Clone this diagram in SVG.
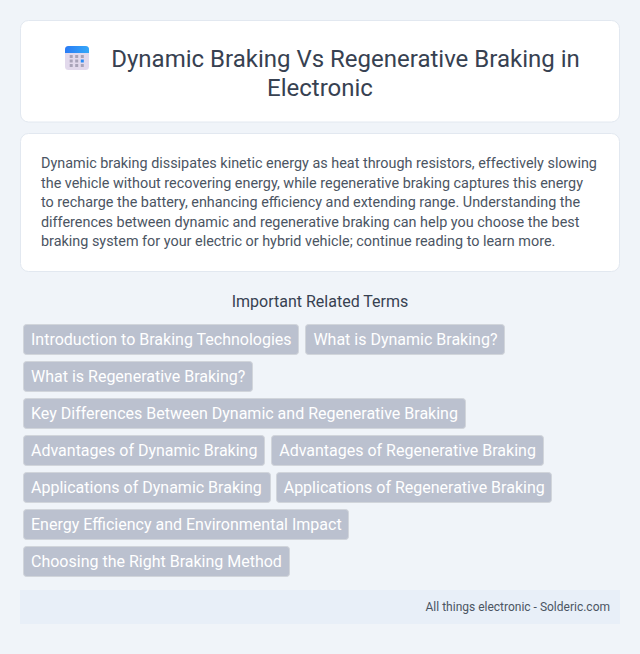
<svg xmlns="http://www.w3.org/2000/svg" width="640" height="654" viewBox="0 0 640 654">
<defs>
<linearGradient id="top" x1="0" y1="0" x2="1" y2="0"><stop offset="0" stop-color="#2a7bf5"/><stop offset="1" stop-color="#35a8f8"/></linearGradient>
</defs>
<style>
text{font-family:Roboto,"Liberation Sans",sans-serif}
.card{fill:#fff;stroke:#e2e8f0;stroke-width:1}
.title{font-size:24px;fill:#374151;text-anchor:middle}
.body{font-size:14.4px;fill:#4b5563}
.head{font-size:16px;fill:#374151;text-anchor:middle}
.tag rect{fill:#bbc1cf;stroke:#d1d5db;stroke-width:1}
.tag text{font-size:16px;fill:#fff}
.dot{fill:#a9a3b8}
</style>
<rect width="640" height="654" fill="#f0f4f9"/>
<g id="title-card">
<rect class="card" x="20.500" y="20.500" width="599" height="101.500" rx="8"/>
<g id="icon">
<rect x="65" y="46" width="24" height="24" rx="3.500" fill="#e2d9ec"/>
<path d="M65 53V49.500A3.500 3.500 0 0 1 68.500 46H85.500A3.500 3.500 0 0 1 89 49.500V53Z" fill="url(#top)"/>
<rect class="dot" x="69.700" y="55" width="3" height="3"/><rect class="dot" x="75.200" y="55" width="3" height="3"/><rect class="dot" x="80.800" y="55" width="3" height="3"/>
<rect class="dot" x="69.700" y="59.500" width="3" height="3"/><rect class="dot" x="75.200" y="59.500" width="3" height="3"/><rect x="80.800" y="59.500" width="3" height="3" fill="#2a8cf5"/>
<rect class="dot" x="69.700" y="64" width="3" height="3"/><rect class="dot" x="75.200" y="64" width="3" height="3"/><rect class="dot" x="80.800" y="64" width="3" height="3"/>
</g>
<text class="title" x="345.500" y="67">Dynamic Braking Vs Regenerative Braking in</text>
<text class="title" x="320" y="96">Electronic</text>
</g>
<g id="summary-card">
<rect class="card" x="20.500" y="133.500" width="599" height="138" rx="8"/>
<text class="body" x="41" y="168">Dynamic braking dissipates kinetic energy as heat through resistors, effectively slowing</text>
<text class="body" x="41" y="188">the vehicle without recovering energy, while regenerative braking captures this energy</text>
<text class="body" x="41" y="207">to recharge the battery, enhancing efficiency and extending range. Understanding the</text>
<text class="body" x="41" y="227">differences between dynamic and regenerative braking can help you choose the best</text>
<text class="body" x="41" y="246">braking system for your electric or hybrid vehicle; continue reading to learn more.</text>
</g>
<text class="head" x="320" y="307">Important Related Terms</text>
<g id="term-1" class="tag"><rect x="23.500" y="324.500" width="275" height="30" rx="3"/><text x="31" y="345">Introduction to Braking Technologies</text></g>
<g id="term-2" class="tag"><rect x="305.500" y="324.500" width="199" height="30" rx="3"/><text x="313.400" y="345">What is Dynamic Braking?</text></g>
<g id="term-3" class="tag"><rect x="23.500" y="361.500" width="229" height="30" rx="3"/><text x="31" y="382">What is Regenerative Braking?</text></g>
<g id="term-4" class="tag"><rect x="23.500" y="398.500" width="442" height="30" rx="3"/><text x="31" y="419">Key Differences Between Dynamic and Regenerative Braking</text></g>
<g id="term-5" class="tag"><rect x="23.500" y="435.500" width="241" height="30" rx="3"/><text x="31" y="456">Advantages of Dynamic Braking</text></g>
<g id="term-6" class="tag"><rect x="271.500" y="435.500" width="272" height="30" rx="3"/><text x="279.200" y="456">Advantages of Regenerative Braking</text></g>
<g id="term-7" class="tag"><rect x="23.500" y="472.500" width="247" height="30" rx="3"/><text x="31" y="493">Applications of Dynamic Braking</text></g>
<g id="term-8" class="tag"><rect x="276.500" y="472.500" width="275" height="30" rx="3"/><text x="283.700" y="493">Applications of Regenerative Braking</text></g>
<g id="term-9" class="tag"><rect x="23.500" y="509.500" width="325" height="30" rx="3"/><text x="31" y="530">Energy Efficiency and Environmental Impact</text></g>
<g id="term-10" class="tag"><rect x="23.500" y="546.500" width="266" height="30" rx="3"/><text x="31" y="567">Choosing the Right Braking Method</text></g>
<g id="footer">
<rect x="20" y="590" width="600" height="34" fill="#e8eff8"/>
<text x="610" y="611" font-size="12" fill="#4b5563" text-anchor="end">All things electronic - Solderic.com</text>
</g>
</svg>
